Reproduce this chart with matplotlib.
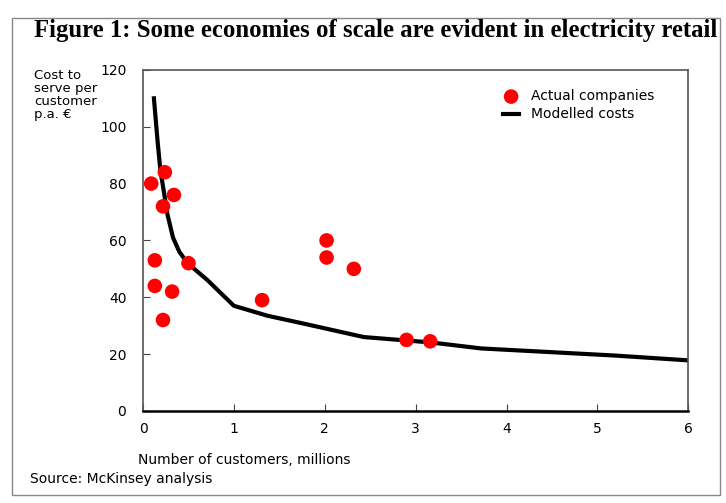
import matplotlib.pyplot as plt
from matplotlib.patches import Rectangle

# actual companies (customers in millions, cost per customer EUR)
company_x = [0.09, 0.24, 0.22, 0.34, 0.13, 0.13, 0.32, 0.22, 0.50, 1.31, 2.02, 2.02, 2.32, 2.90, 3.16]
company_y = [80, 84, 72, 76, 53, 44, 42, 32, 52, 39, 60, 54, 50, 25, 24.5]

# modelled cost curve
model_x = [0.12, 0.16, 0.19, 0.23, 0.27, 0.33, 0.40, 0.49, 0.71, 1.00, 1.37, 1.73, 2.43, 3.17, 3.72, 5.19, 6.00]
model_y = [110, 95, 85, 77, 69, 61, 56, 52, 46, 37, 33.5, 31, 26, 24.1, 22, 19.5, 17.8]

xticks = [0, 1, 2, 3, 4, 5, 6]
yticks = [0, 20, 40, 60, 80, 100, 120]


def main():
    fig = plt.figure(figsize=(7.26, 5.03), dpi=100)
    ax = fig.add_axes([0.197, 0.183, 0.751, 0.678])

    ax.plot(model_x, model_y, color="black", lw=3, label="Modelled costs", zorder=2)
    ax.scatter(company_x, company_y, s=110, color="#ff0000", edgecolors="none",
               label="Actual companies", zorder=3)

    ax.set_xlim(0, 6)
    ax.set_ylim(0, 120)
    ax.set_xticks(xticks)
    ax.set_yticks(yticks)
    ax.tick_params(direction="in", length=5, labelsize=10, color="#444444")
    ax.tick_params(axis="x", pad=8)
    ax.tick_params(axis="y", pad=12)
    for side in ["top", "right", "left"]:
        ax.spines[side].set_color("#555555")
        ax.spines[side].set_linewidth(1.2)
    ax.spines["bottom"].set_linewidth(1.8)

    handles, labels = ax.get_legend_handles_labels()
    ax.legend(handles[::-1], labels[::-1], loc="upper right", bbox_to_anchor=(0.96, 0.98),
              frameon=False, fontsize=10, handlelength=1.2, labelspacing=0.3)

    fig.text(0.047, 0.862, "Cost to\nserve per\ncustomer\np.a. \u20ac", fontsize=9.5,
             va="top", ha="left", linespacing=1.0)
    fig.text(0.19, 0.085, "Number of customers, millions", fontsize=10, ha="left", va="center")
    fig.text(0.042, 0.047, "Source: McKinsey analysis", fontsize=10, ha="left", va="center")
    fig.text(0.047, 0.94, "Figure 1: Some economies of scale are evident in electricity retail",
             fontsize=17.8, fontweight="bold", family="Liberation Serif", ha="left", va="center")

    fig.patches.append(Rectangle((0.017, 0.015), 0.975, 0.95, transform=fig.transFigure,
                                 fill=False, edgecolor="#888888", lw=1))

    fig.savefig("out.png", dpi=100)


if __name__ == '__main__':
    main()
